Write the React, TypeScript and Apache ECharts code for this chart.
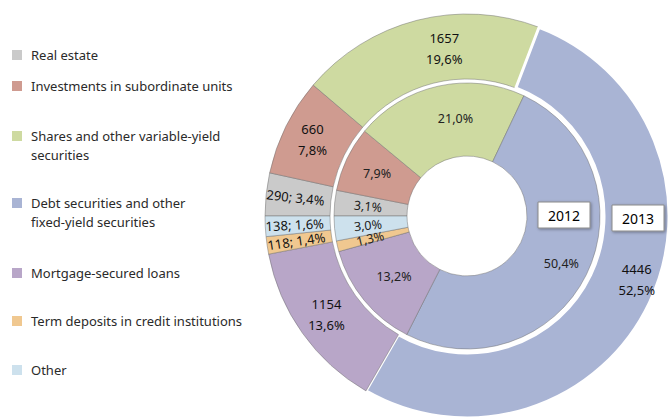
import React, { useEffect, useRef } from "react";
import * as echarts from "echarts";

const categories = [
  "Real estate",
  "Investments in subordinate units",
  "Shares and other variable-yield securities",
  "Debt securities and other fixed-yield securities",
  "Mortgage-secured loans",
  "Term deposits in credit institutions",
  "Other",
];
const legendLabels = [
  "Real estate",
  "Investments in subordinate units",
  "Shares and other variable-yield\nsecurities",
  "Debt securities and other\nfixed-yield securities",
  "Mortgage-secured loans",
  "Term deposits in credit institutions",
  "Other",
];
const colors = ["#cacaca", "#cf9b90", "#cedaa1", "#a9b4d4", "#b8a6c8", "#f0c890", "#cde1ed"];
const values2013 = [290, 660, 1657, 4446, 1154, 118, 138];
const pct2013 = ["3,4", "7,8", "19,6", "52,5", "13,6", "1,4", "1,6"];
const values2012 = [3.1, 7.9, 21.0, 50.4, 13.2, 1.3, 3.0];
const smallSlice = [true, false, false, false, false, true, true];
const years = ["2012", "2013"];
const legendTops = [55, 86, 136, 203, 273, 321, 370];
// label nudges (style only)
const outerOffsets = [[0, 0], [0, 0], [20, 0], [14, -11], [0, -2], [0, 0], [0, 0]];
const innerOffsets = [[0, 0], [0, 0], [10, 0], [5, 4], [4, -2], [0, 0], [0, 0]];

const FONT = "'Noto Sans', 'DejaVu Sans', sans-serif";

export default function App() {
  const ref = useRef<HTMLDivElement>(null);
  useEffect(() => {
    document.body.style.margin = "0";
    if (!ref.current) return;
    const chart = echarts.init(ref.current, null, { renderer: "svg" });
    const center = [467, 216];
    const border = { borderColor: "rgba(110,110,110,0.6)", borderWidth: 0.8 };

    const outerData = categories.map((name, i) => ({
      name,
      value: values2013[i],
      itemStyle:
        i === 3
          ? { color: colors[i], borderColor: "#ffffff", borderWidth: 3 }
          : { color: colors[i], ...border },
      label: smallSlice[i]
        ? { formatter: `${values2013[i]}; ${pct2013[i]}%`, rotate: "radial", offset: outerOffsets[i] }
        : { formatter: `${values2013[i]}\n${pct2013[i]}%`, offset: outerOffsets[i] },
    }));
    const innerData = categories.map((name, i) => ({
      name,
      value: values2012[i],
      itemStyle: { color: colors[i], ...border },
      label: {
        formatter: `${values2012[i].toFixed(1).replace(".", ",")}%`,
        offset: innerOffsets[i],
        ...(smallSlice[i] ? { rotate: "radial" } : {}),
      },
    }));

    const legends = categories.map((name, i) => {
      const twoLine = legendLabels[i].includes("\n");
      const h = twoLine ? 57 : 19;
      return {
        data: [name],
        left: 12,
        top: legendTops[i] - h / 2,
        padding: 0,
        orient: "vertical",
        icon: "rect",
        itemWidth: 10,
        itemHeight: 10,
        itemStyle: { borderWidth: 0 },
        selectedMode: false,
        formatter: () => (twoLine ? "\n" + legendLabels[i] : legendLabels[i]),
        textStyle: {
          fontSize: 13,
          lineHeight: 19,
          color: "#2a2a2a",
          fontFamily: FONT,
          padding: [0, 0, 0, 4],
        },
      };
    });

    const yearBox = (x: number, y: number, text: string) => [
      {
        type: "rect",
        z: 100,
        shape: { x, y, width: 52, height: 26 },
        style: {
          fill: "#ffffff",
          stroke: "#8a8a8a",
          lineWidth: 1,
          shadowBlur: 3,
          shadowOffsetX: 1,
          shadowOffsetY: 1,
          shadowColor: "rgba(0,0,0,0.35)",
        },
      },
      {
        type: "text",
        z: 101,
        x: x + 26,
        y: y + 13,
        style: {
          text,
          fill: "#000",
          fontSize: 14,
          fontFamily: FONT,
          align: "center",
          verticalAlign: "middle",
        },
      },
    ];

    chart.setOption({
      animation: false,
      legend: legends,
      graphic: { elements: [...yearBox(538, 202, years[0]), ...yearBox(612, 205, years[1])] },
      series: [
        {
          name: years[0],
          type: "pie",
          center,
          radius: [60, 133],
          startAngle: 180,
          clockwise: true,
          avoidLabelOverlap: false,
          silent: true,
          labelLayout: { hideOverlap: false },
          label: {
            show: true,
            position: "inside",
            fontSize: 12.5,
            color: "#222",
            fontFamily: FONT,
          },
          labelLine: { show: false },
          emphasis: { disabled: true },
          data: innerData,
        },
        {
          name: years[1],
          type: "pie",
          center,
          radius: [137, 202],
          startAngle: 180,
          clockwise: true,
          avoidLabelOverlap: false,
          silent: true,
          labelLayout: { hideOverlap: false },
          label: {
            show: true,
            position: "inside",
            fontSize: 13,
            lineHeight: 21,
            color: "#111",
            fontFamily: FONT,
          },
          labelLine: { show: false },
          emphasis: { disabled: true },
          data: outerData,
        },
      ],
    });
    return () => chart.dispose();
  }, []);
  return <div ref={ref} style={{ width: 668, height: 417 }} />;
}
